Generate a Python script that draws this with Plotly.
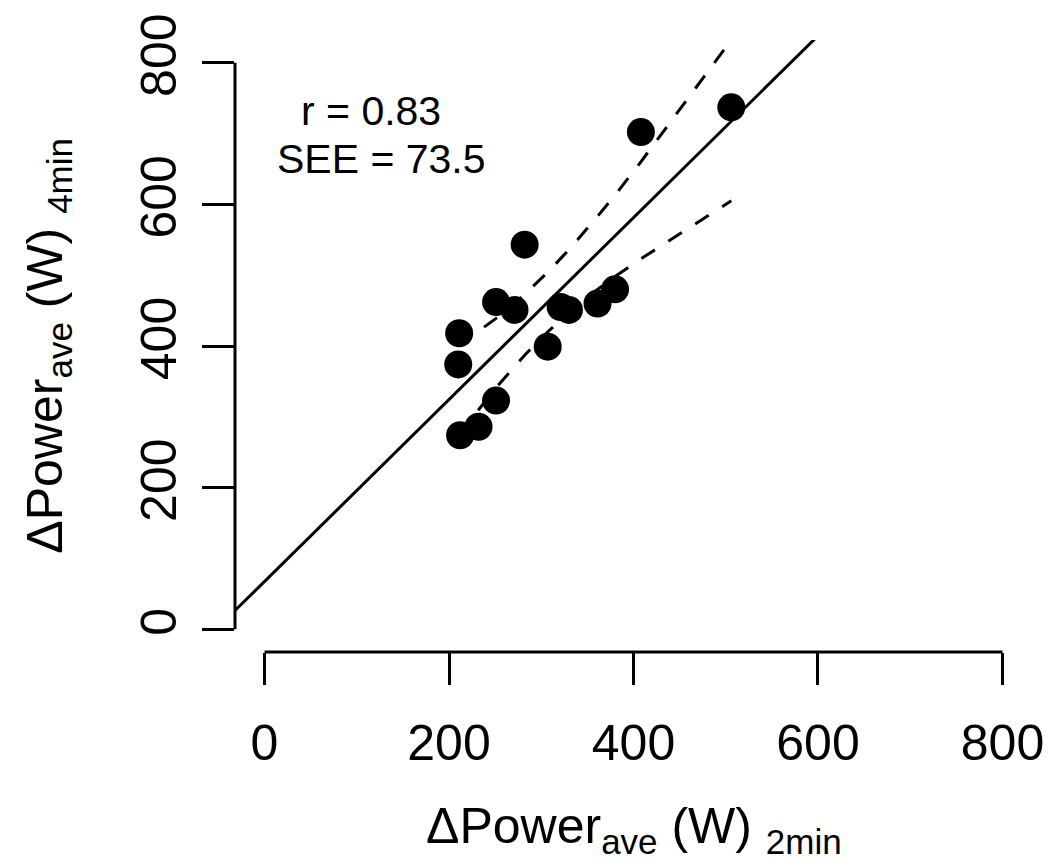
import plotly.graph_objects as go

# ---- data ----
power_2min = [211, 210, 212, 232, 251, 251, 271, 282, 307, 321, 330, 361, 380, 408, 506]
power_4min = [418, 374, 274, 286, 323, 462, 451, 543, 399, 455, 451, 460, 480, 702, 737]

# regression line (abline)
intercept = 67.6
slope = 1.284

# 95% confidence band of the fit, read at sorted x values
band_x = [210, 231, 251, 271, 282, 307, 321, 330, 361, 380, 408, 506]
band_upper = [400, 420, 439, 460, 473, 504, 523, 536, 583, 613, 660, 832]
band_lower = [274, 309, 341, 371, 387, 420, 437, 447, 480, 498, 523, 605]

tick_vals = [0, 200, 400, 600, 800]
tick_text = ["0", "200", "400", "600", "800"]
axis_range = [-32, 832]

stat_r = "r = 0.83"
stat_see = "SEE = 73.5"

FONT = "Liberation Sans, Arial, Helvetica, sans-serif"

fig = go.Figure()

fig.add_trace(go.Scatter(
    x=power_2min, y=power_4min, mode="markers",
    marker=dict(size=28, color="black", line=dict(width=0)),
    showlegend=False, hoverinfo="x+y"))

line_x = list(axis_range)
line_y = [intercept + slope * v for v in line_x]
fig.add_trace(go.Scatter(
    x=line_x, y=line_y, mode="lines",
    line=dict(color="black", width=3), showlegend=False))

for band in (band_upper, band_lower):
    fig.add_trace(go.Scatter(
        x=band_x, y=band, mode="lines",
        line=dict(color="black", width=3, dash="16px,16px"),
        showlegend=False))

axis_common = dict(
    range=axis_range, tickvals=tick_vals, ticktext=tick_text,
    ticks="outside", ticklen=32, tickwidth=3, tickcolor="black",
    showgrid=False, zeroline=False, showline=False,
    tickfont=dict(family=FONT, size=50, color="black"),
)

fig.update_layout(
    width=1060, height=867, autosize=False,
    margin=dict(l=235, r=28, t=40, b=215),
    paper_bgcolor="white", plot_bgcolor="white",
    xaxis=dict(**axis_common, ticklabelstandoff=15),
    yaxis=dict(**axis_common, tickangle=-90, ticklabelstandoff=6),
    font=dict(family=FONT, color="black"),
)

# axis lines spanning only the tick range (R style)
fig.add_shape(type="line", xref="x", yref="paper", x0=tick_vals[0], x1=tick_vals[-1],
              y0=0, y1=0, line=dict(color="black", width=3))
fig.add_shape(type="line", xref="paper", yref="y", x0=0, x1=0,
              y0=tick_vals[0], y1=tick_vals[-1], line=dict(color="black", width=3))

# axis titles
fig.add_annotation(text="ΔPower<sub>ave</sub> (W) <sub>2min</sub>", xref="paper", yref="paper",
                   x=0.5, y=-0.29, xanchor="center", yanchor="middle", showarrow=False,
                   font=dict(family=FONT, size=50, color="black"))
fig.add_annotation(text="ΔPower<sub>ave</sub> (W) <sub>4min</sub>", xref="paper", yref="paper",
                   x=-0.235, y=0.5, xanchor="center", yanchor="middle", textangle=-90,
                   showarrow=False, font=dict(family=FONT, size=50, color="black"))

# statistics text
fig.add_annotation(text=stat_r, xref="x", yref="y", x=115, y=732, showarrow=False,
                   xanchor="center", yanchor="middle",
                   font=dict(family=FONT, size=41, color="black"))
fig.add_annotation(text=stat_see, xref="x", yref="y", x=127, y=664, showarrow=False,
                   xanchor="center", yanchor="middle",
                   font=dict(family=FONT, size=41, color="black"))

fig.write_html("out.html")
